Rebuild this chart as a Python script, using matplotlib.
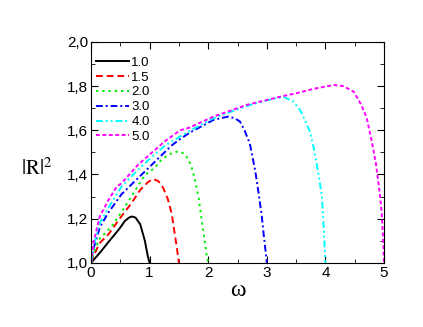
import matplotlib
matplotlib.use('Agg')
import matplotlib.pyplot as plt
from matplotlib.ticker import MultipleLocator, FuncFormatter

plt.rcParams['mathtext.fontset'] = 'stix'

# curves, one per parameter value
labels = ['1.0', '1.5', '2.0', '3.0', '4.0', '5.0']

x_10 = [0, 0.1, 0.18, 0.3, 0.41, 0.5, 0.58, 0.65, 0.7, 0.76, 0.84, 0.92, 0.97, 1.0]
y_10 = [1.0, 1.03, 1.055, 1.095, 1.13, 1.16, 1.19, 1.205, 1.21, 1.205, 1.175, 1.10, 1.03, 1.0]

x_15 = [0, 0.05, 0.15, 0.3, 0.49, 0.69, 0.84, 0.97, 1.06, 1.15, 1.23, 1.31, 1.38, 1.43, 1.47, 1.5]
y_15 = [1.0, 1.035, 1.09, 1.13, 1.20, 1.27, 1.33, 1.365, 1.38, 1.37, 1.34, 1.29, 1.22, 1.13, 1.06, 1.0]

x_20 = [0, 0.05, 0.15, 0.35, 0.52, 0.69, 0.92, 1.09, 1.21, 1.37, 1.49, 1.58, 1.66, 1.72, 1.78,
        1.84, 1.89, 1.94, 1.97, 2.0]
y_20 = [1.0, 1.05, 1.11, 1.164, 1.23, 1.30, 1.398, 1.43, 1.47, 1.495, 1.505, 1.495, 1.47, 1.43, 1.37,
        1.29, 1.19, 1.10, 1.04, 1.0]

x_30 = [0, 0.05, 0.15, 0.29, 0.52, 0.8, 1.1, 1.37, 1.52, 1.69, 1.9, 2.09, 2.34, 2.45, 2.54, 2.62,
        2.71, 2.80, 2.86, 2.91, 2.95, 2.98, 3.0]
y_30 = [1.0, 1.07, 1.16, 1.225, 1.31, 1.383, 1.46, 1.53, 1.56, 1.59, 1.62, 1.647, 1.662, 1.655, 1.64, 1.60,
        1.54, 1.42, 1.315, 1.22, 1.12, 1.05, 1.0]

x_40 = [0, 0.05, 0.15, 0.3, 0.52, 0.8, 1.0, 1.26, 1.66, 2.09, 2.66, 3.0, 3.28, 3.45, 3.57, 3.66,
        3.74, 3.80, 3.85, 3.90, 3.94, 3.97, 4.0]
y_40 = [1.0, 1.08, 1.18, 1.25, 1.345, 1.42, 1.47, 1.53, 1.594, 1.655, 1.71, 1.735, 1.752, 1.73, 1.69, 1.64,
        1.59, 1.52, 1.45, 1.37, 1.30, 1.16, 1.0]

x_50 = [0, 0.05, 0.15, 0.3, 0.44, 0.52, 0.8, 1.0, 1.26, 1.52, 1.66, 2.09, 2.66, 3.23, 3.51, 3.79,
        4.14, 4.3, 4.48, 4.6, 4.7, 4.79, 4.86, 4.92, 4.96, 4.99, 5.0]
y_50 = [1.0, 1.1, 1.21, 1.285, 1.345, 1.36, 1.443, 1.49, 1.55, 1.60, 1.61, 1.662, 1.715, 1.752, 1.768, 1.787,
        1.805, 1.80, 1.775, 1.72, 1.66, 1.55, 1.45, 1.33, 1.225, 1.07, 1.0]

xs = [x_10, x_15, x_20, x_30, x_40, x_50]
ys = [y_10, y_15, y_20, y_30, y_40, y_50]
colors = ['black', '#ff0000', '#00ee00', '#0000ff', '#00ffff', '#ff00ff']
styles = ['-', (0, (3.5, 2)), (0, (1.2, 2)), (0, (3.5, 1.5, 1, 1.5)),
          (0, (3.5, 1.5, 1, 1.5, 1, 1.5)), (0, (2, 1.3))]

fig = plt.figure(figsize=(4.23, 3.27), dpi=100)
ax = fig.add_axes([0.215, 0.196, 0.693, 0.676])

for x, y, c, ls, lab in zip(xs, ys, colors, styles, labels):
    ax.plot(x, y, color=c, linestyle=ls, linewidth=1.4, label=lab)

ax.set_xlim(0, 5)
ax.set_ylim(1.0, 2.0)
ax.xaxis.set_major_locator(MultipleLocator(1))
ax.xaxis.set_minor_locator(MultipleLocator(0.5))
ax.yaxis.set_major_locator(MultipleLocator(0.2))
ax.yaxis.set_minor_locator(MultipleLocator(0.1))
ax.yaxis.set_major_formatter(FuncFormatter(lambda v, p: ('%.1f' % v).replace('.', ',')))
ax.tick_params(which='both', direction='in', top=True, right=True, labelsize=11, pad=2)
ax.tick_params(which='major', length=5)
ax.tick_params(which='minor', length=3)
for lab in ax.get_xticklabels() + ax.get_yticklabels():
    lab.set_fontfamily('Liberation Sans')

ax.set_xlabel('ω', family='Liberation Serif', fontsize=17, labelpad=0)
ax.set_ylabel('$|\\mathrm{R}|^2$', fontsize=15, rotation=0)
ax.yaxis.set_label_coords(-0.185, 0.43)
ax.yaxis.label.set_va('center')

leg = ax.legend(loc='upper left', bbox_to_anchor=(0.003, 0.955), frameon=False, fontsize=9.5,
                handlelength=2.5, labelspacing=0.2, borderaxespad=0.0, borderpad=0.35,
                handletextpad=0.15)
for t in leg.get_texts():
    t.set_fontfamily('Liberation Sans')

fig.savefig('out.png', dpi=100)
